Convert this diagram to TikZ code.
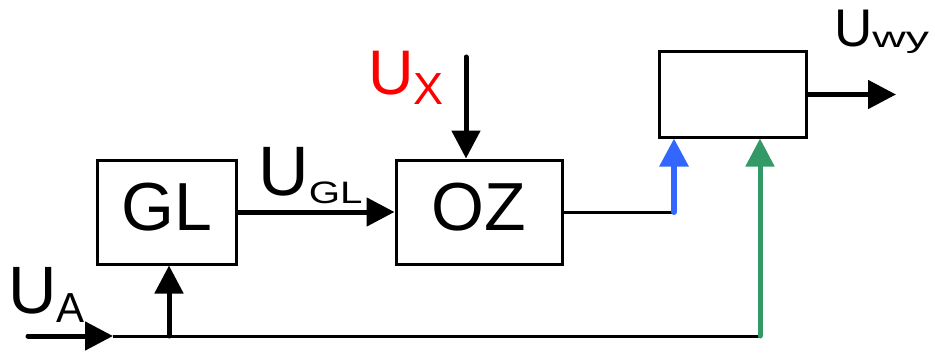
\documentclass[tikz,border=0pt]{standalone}
\usepackage{fontspec}
\setmainfont{Liberation Sans}
\usetikzlibrary{arrows.meta,positioning}
\definecolor{sigblue}{HTML}{3366FF}
\definecolor{siggreen}{HTML}{339966}
% signal name: U with a lowered, optionally stretched index
\newcommand{\sig}[5][1]{{\fontsize{#2}{#2}\selectfont U}\raisebox{-#4}{\scalebox{#1}[1]{\fontsize{#3}{#3}\selectfont #5}}}

\begin{document}
\begin{tikzpicture}[x=1pt,y=-1pt,>={Triangle[length=28pt,width=28pt]},
	blok/.style={draw,line width=3pt,inner sep=0pt,minimum height=104pt,text depth=10pt,font=\fontsize{68}{68}\selectfont},
	sygnal/.style={->,line width=5pt,line cap=round},
	linia/.style={line width=3pt},
	etykieta/.style={anchor=base west,inner sep=0pt}]
	\useasboundingbox (0,0) rectangle (935,353);
	
	\node[blok,minimum width=139pt] (gl) at (166.5,212) {GL};
	\node[blok,minimum width=166pt] (oz) at (479,212) {OZ};
	\node[blok,minimum width=147pt,minimum height=85pt] (wy) at (732.5,94.5) {};
	
	\coordinate (uain) at (28,336);
	\coordinate (uatip) at (113,336);
	\coordinate (odg) at (169,336);
	\coordinate (rog) at (760,336);
	\coordinate (uxin) at (466,57);
	\coordinate (zal) at (674,212);
	\coordinate (wyj) at (896,94.5);
	
	\draw[sygnal] (uain) -- (uatip);
	\draw[linia] (uatip) -- (rog);
	\draw[sygnal] (odg) -- (odg |- gl.south);
	\draw[sygnal] (gl.east) -- (oz.west);
	\draw[sygnal] (uxin) -- (uxin |- oz.north);
	\draw[linia] (oz.east) -- (zal);
	\draw[sygnal,sigblue,line width=6pt] (zal) -- (zal |- wy.south);
	\draw[sygnal,siggreen] (rog) -- (rog |- wy.south);
	\draw[sygnal] (wy.east) -- (wyj);
	
	\node[etykieta] (ua) at (8,313) {\sig{67}{42}{9pt}{A}};
	\node[etykieta] (ugl) at (258,195) {\sig[1.3]{70}{31}{8pt}{GL}};
	\node[etykieta,text=red] (ux) at (368,95) {\sig{63}{45}{10pt}{X}};
	\node[etykieta] (uwy) at (834,47) {\sig[1.6]{53}{29}{1pt}{wy}};
\end{tikzpicture}
\end{document}
